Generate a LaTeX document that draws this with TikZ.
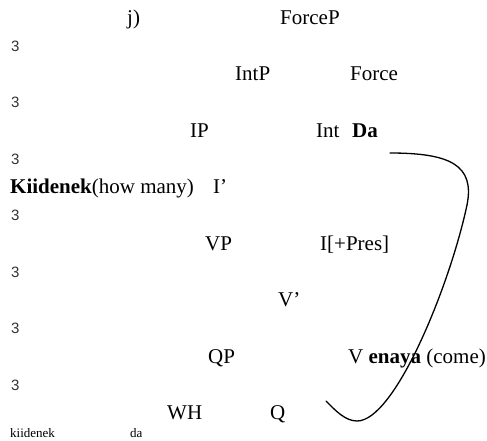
\documentclass[tikz,border=0pt]{standalone}
\usepackage{fontspec}
\setmainfont{Liberation Serif}
\newfontfamily\branchfont{Liberation Sans}
\usetikzlibrary{positioning}
\tikzset{
  treelabel/.style={anchor=base west, inner sep=0pt,
    font=\fontsize{21}{25}\selectfont},
  branchmark/.style={anchor=base west, inner sep=0pt,
    font=\branchfont\fontsize{15}{17}\selectfont, text=black!80},
  glossword/.style={anchor=base west, inner sep=0pt,
    font=\fontsize{13}{15}\selectfont},
  movecurve/.style={line width=1.3pt, line cap=round},
}

\begin{document}
\begin{tikzpicture}[x=1pt, y=-1pt]
  \useasboundingbox (0,0) rectangle (487,440);
  % branch marks down the left edge
  \foreach \i in {0,...,6}
    \node[branchmark] (b\i) at (11, 51+56.5*\i) {3};

  % tree labels, row by row
  \node[treelabel] (jlabel) at (127,24) {j)};
  \node[treelabel] (forcep) at (280,24) {ForceP};
  \node[treelabel] (intp) at (235,80.5) {IntP};
  \node[treelabel] (force) at (350,80.5) {Force};
  \node[treelabel] (ip) at (190,137) {IP};
  \node[treelabel] (intda) at (316,137) {Int\hspace{0.6em}\textbf{Da}};
  \node[treelabel] (kiidenek) at (10,193.5) {\textbf{Kiidenek}(how many)};
  \node[treelabel] (ibar) at (213,193.5) {I’};
  \node[treelabel] (vp) at (205,250) {VP};
  \node[treelabel] (ipres) at (320,250) {I[+Pres]};
  \node[treelabel] (vbar) at (278,306.5) {V’};
  \node[treelabel] (qp) at (208,363) {QP};
  \node[treelabel] (venaya) at (348,363) {V \textbf{enaya} (come)};
  \node[treelabel] (wh) at (167,419.5) {WH};
  \node[treelabel] (q) at (270,419.5) {Q};

  % gloss line
  \node[glossword] (glosskii) at (10,437) {kiidenek};
  \node[glossword] (glossda) at (130,437) {da};

  % movement line
  \coordinate (mvstart) at (390,153);
  \coordinate (mvturn) at (467,205);
  \coordinate (mvlow) at (357,421);
  \coordinate (mvend) at (326,401);
  \draw[movecurve] (mvstart) .. controls (450,153) and (475,165) .. (mvturn)
    .. controls (450,285) and (395,421) .. (mvlow)
    .. controls (345,421) and (335,410) .. (mvend);
\end{tikzpicture}
\end{document}
